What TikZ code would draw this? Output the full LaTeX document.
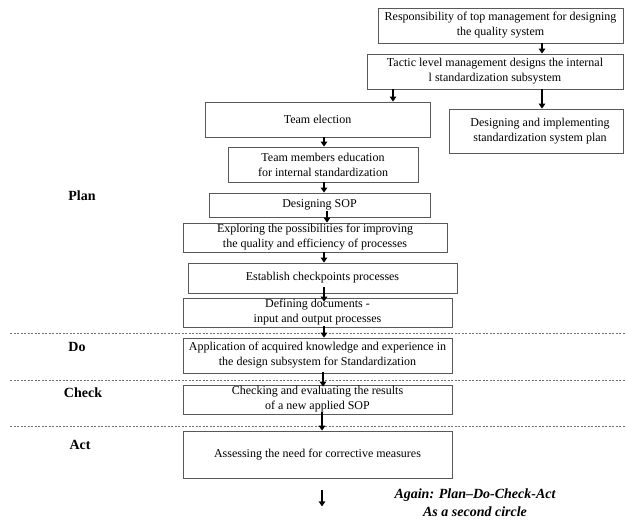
\documentclass[tikz,border=0pt]{standalone}
\usepackage{fontspec}
\setmainfont{Liberation Serif}
\usetikzlibrary{arrows.meta}
\begin{document}
\begin{tikzpicture}[x=1pt,y=-1pt,
  box/.style={draw=black!65, line width=0.8pt, inner sep=0pt, align=center,
    font=\fontsize{12}{15}\selectfont},
  arr/.style={line width=1.4pt, -{Triangle[length=5pt,width=6.5pt]}},
  sep/.style={draw=black!55, line width=0.6pt, dash pattern=on 2pt off 1.5pt},
  phase/.style={font=\fontsize{14}{16}\selectfont\bfseries},
  note/.style={font=\fontsize{14}{18}\selectfont\bfseries\itshape, align=center}]
\useasboundingbox (0,0) rectangle (626,520);
% boxes
\node[box, minimum width=245pt, minimum height=35pt] (resp) at (500.5,25.5)
  {Responsibility of top management for designing\\the quality system};
\node[box, minimum width=256pt, minimum height=35pt] (tactic) at (495,71.5)
  {Tactic level management designs the internal\\l standardization subsystem};
\node[box, minimum width=174pt, minimum height=44pt] (design) at (536,131)
  {\hspace*{8pt}Designing and implementing\\\hspace*{8pt}standardization system plan};
\node[box, minimum width=225pt, minimum height=35pt] (team) at (317.5,119.5) {Team election};
\node[box, minimum width=190pt, minimum height=35pt] (edu) at (323,164.5)
  {Team members education\\for internal standardization};
\node[box, minimum width=221pt, minimum height=24pt] (sop) at (319.5,205) {Designing SOP};
\node[box, minimum width=264pt, minimum height=29pt] (explore) at (315,237.5)
  {Exploring the possibilities for improving\\the quality and efficiency of processes};
\node[box, minimum width=269pt, minimum height=30pt] (establish) at (322.5,278)
  {Establish checkpoints processes};
\node[box, minimum width=269pt, minimum height=29pt] (define) at (317.5,312.5)
  {Defining documents -\\input and output processes};
\node[box, minimum width=269pt, minimum height=35pt] (apply) at (317.5,355.5)
  {Application of acquired knowledge and experience in\\the design subsystem for Standardization};
\node[box, minimum width=269pt, minimum height=29pt] (check) at (317.5,399.5)
  {Checking and evaluating the results\\of a new applied SOP};
\node[box, minimum width=269pt, minimum height=47pt] (act) at (317.5,454.5)
  {Assessing the need for corrective measures};
% phase separators
\coordinate (s1a) at (10,333); \coordinate (s1b) at (626,333);
\coordinate (s2a) at (10,380); \coordinate (s2b) at (626,380);
\coordinate (s3a) at (10,426); \coordinate (s3b) at (626,426);
\draw[sep] (s1a) -- (s1b);
\draw[sep] (s2a) -- (s2b);
\draw[sep] (s3a) -- (s3b);
% phase labels
\node[phase] (plan) at (82,196) {Plan};
\node[phase] (do) at (77,347) {Do};
\node[phase] (chk) at (83,393) {Check};
\node[phase] (actl) at (80,445) {Act};
% arrows
\draw[arr] ([xshift=41.5pt]resp.south) -- ([xshift=47pt]tactic.north);
\draw[arr] ([xshift=-102pt]tactic.south) -- ([xshift=75.5pt]team.north);
\draw[arr, line width=2pt] ([xshift=47pt]tactic.south) -- ([xshift=6pt]design.north);
\draw[arr] ([xshift=6.5pt]team.south) -- ([xshift=1pt]edu.north);
\draw[arr] ([xshift=1pt]edu.south) -- ([xshift=4.5pt]sop.north);
\draw[arr, shorten <=-6pt] ([xshift=7.5pt]sop.south) -- ([xshift=12pt]explore.north);
\draw[arr] ([xshift=9pt]explore.south) -- ([xshift=1.5pt]establish.north);
\draw[arr, shorten <=-6pt, shorten >=-4pt] ([xshift=1.5pt]establish.south) -- ([xshift=6.5pt]define.north);
\draw[arr, shorten <=-1pt] ([xshift=6.5pt]define.south) -- ([xshift=6.5pt]apply.north);
\draw[arr, shorten <=-1pt, shorten >=-2pt] ([xshift=5.5pt]apply.south) -- ([xshift=5.5pt]check.north);
\draw[arr, shorten <=-2pt] ([xshift=4.5pt]check.south) -- ([xshift=4.5pt]act.north);
\coordinate (next1) at ([xshift=4.5pt,yshift=-12pt]act.south);
\coordinate (next2) at ([xshift=4.5pt,yshift=-28pt]act.south);
\draw[arr] (next1) -- (next2);
% note
\node[note] (again) at (475,503) {Again: Plan–Do-Check-Act\\As a second circle};
\end{tikzpicture}
\end{document}
